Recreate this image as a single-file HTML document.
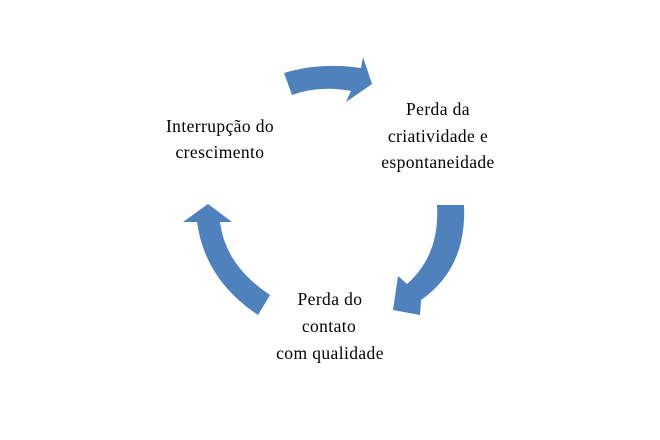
<!DOCTYPE html>
<html><head><meta charset="utf-8"><style>
html,body{margin:0;padding:0;background:#fff;}
svg{display:block}
text{font-family:"Liberation Serif",serif;font-size:17.5px;letter-spacing:0.4px;fill:#000;}
</style></head><body>
<svg width="660" height="440" viewBox="0 0 660 440">
<path d="M284,73 Q320,62 361,68 L363,57 L372,84 L346,102 L351,91 Q320,85 292,95 Z" fill="#4f81bd"/>
<path d="M437,205 L464,205 Q467,268 421,300 L420,315 L393,310 L398,276 L407,284 Q440,255 437,205 Z" fill="#4f81bd"/>
<path d="M270,295 Q225,265 220,222 L232,222 L208,204 L183,222 L197,222 Q205,280 258,315 Z" fill="#4f81bd"/>
<text x="220" y="132" text-anchor="middle">Interrupção do</text>
<text x="220" y="158" text-anchor="middle">crescimento</text>
<text x="438" y="115" text-anchor="middle">Perda da</text>
<text x="438" y="142" text-anchor="middle">criatividade e</text>
<text x="438" y="168" text-anchor="middle">espontaneidade</text>
<text x="330" y="305" text-anchor="middle">Perda do</text>
<text x="329" y="332" text-anchor="middle">contato</text>
<text x="330" y="359" text-anchor="middle">com qualidade</text>
</svg>
</body></html>
